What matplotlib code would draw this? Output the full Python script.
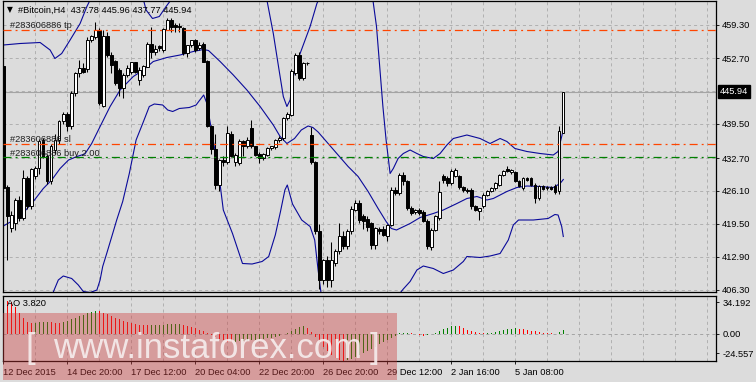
import matplotlib
matplotlib.use("Agg")
import matplotlib.pyplot as plt
import matplotlib.transforms as mtransforms
from matplotlib import font_manager
from matplotlib.patches import Rectangle
import numpy as np

plt.rcParams['font.family'] = ['Liberation Sans', 'DejaVu Sans']
plt.rcParams['lines.scale_dashes'] = False

# Bitcoin H4 свечи (O, H, L, C)
opens = [451.1, 426.8, 418.6, 419.6, 424.4, 420.6, 428.6, 423.0, 429.0, 430.6,
         436.3, 433.0, 428.0, 434.3, 436.3, 440.0, 441.4, 439.0, 445.6, 449.6,
         450.8, 450.5, 456.3, 457.0, 458.4, 443.1, 457.0, 453.3, 452.0, 450.3,
         446.6, 449.3, 449.8, 451.8, 448.3, 449.3, 451.0, 455.6, 454.0, 455.0,
         454.3, 458.4, 460.4, 459.3, 459.2, 458.6, 453.6, 455.3, 456.2, 454.6,
         455.6, 452.0, 439.0, 434.5, 427.3, 432.3, 431.8, 437.6, 431.8, 431.6,
         436.0, 435.0, 438.6, 435.0, 433.5, 432.6, 433.3, 434.6, 434.8, 436.3,
         436.6, 440.6, 441.3, 449.6, 453.3, 448.6, 451.6, 437.3, 431.8, 418.0,
         408.3, 412.3, 408.3, 411.6, 414.0, 417.0, 415.0, 418.0, 422.4, 423.7,
         421.0, 420.5, 419.6, 415.3, 418.5, 418.5, 417.0, 419.3, 426.3, 425.6,
         429.3, 428.0, 422.6, 421.8, 422.3, 421.8, 420.0, 414.8, 418.3, 420.6,
         429.1, 428.6, 427.6, 429.0, 429.0, 426.8, 426.3, 426.3, 423.0, 422.0,
         423.0, 425.3, 426.0, 426.6, 427.3, 429.3, 430.4, 429.8, 429.8, 428.0,
         426.6, 428.6, 428.6, 427.3, 424.6, 427.0, 426.6, 426.8, 427.0, 426.0,
         437.78]
highs = [451.5, 427.2, 422.0, 424.6, 425.0, 430.4, 429.0, 430.6, 431.0, 436.5,
         436.6, 433.5, 435.5, 437.5, 440.3, 441.8, 441.8, 446.0, 449.8, 452.3,
         451.6, 457.0, 457.3, 460.0, 458.7, 458.3, 458.0, 454.0, 452.3, 450.6,
         449.6, 451.3, 451.8, 452.0, 451.0, 451.3, 455.8, 459.0, 455.3, 455.3,
         458.6, 460.6, 460.6, 459.6, 459.6, 459.0, 455.3, 456.3, 456.5, 455.8,
         455.8, 452.3, 439.3, 437.5, 432.5, 433.0, 439.0, 438.0, 433.6, 436.5,
         436.3, 436.8, 440.4, 435.2, 433.8, 433.7, 434.8, 435.0, 436.5, 437.0,
         440.8, 441.8, 450.5, 453.6, 454.0, 452.0, 451.8, 438.9, 432.0, 419.5,
         412.5, 413.0, 415.9, 414.5, 419.6, 418.0, 418.5, 423.0, 424.4, 424.4,
         421.5, 421.0, 419.8, 418.9, 418.8, 419.0, 419.5, 426.8, 426.8, 429.6,
         429.8, 428.3, 423.0, 422.5, 422.6, 422.3, 420.5, 418.6, 421.3, 428.0,
         429.5, 429.0, 430.5, 430.6, 429.3, 427.0, 426.6, 426.6, 423.2, 422.6,
         425.6, 426.3, 426.8, 427.8, 429.5, 430.4, 431.0, 430.5, 430.1, 428.3,
         428.8, 428.8, 428.8, 427.6, 427.3, 427.2, 427.0, 427.0, 427.5, 439.0,
         445.96]
lows = [426.4, 412.3, 417.8, 418.3, 420.0, 420.2, 422.5, 422.5, 428.5, 429.5,
        432.6, 427.5, 427.5, 433.5, 435.5, 439.5, 438.0, 438.5, 445.0, 449.0,
        449.6, 450.0, 456.0, 456.5, 443.3, 442.8, 453.0, 449.6, 447.3, 445.0,
        444.6, 449.0, 449.5, 449.6, 447.3, 448.8, 450.8, 452.6, 453.3, 454.2,
        454.0, 458.3, 458.0, 458.0, 458.0, 453.3, 452.8, 455.0, 454.0, 454.3,
        451.8, 438.8, 433.5, 426.5, 426.0, 431.0, 431.5, 432.8, 431.0, 431.3,
        433.0, 434.6, 434.6, 433.0, 431.6, 432.3, 433.0, 434.3, 434.5, 435.8,
        436.4, 440.3, 441.0, 449.3, 448.3, 448.3, 451.4, 431.5, 417.5, 406.5,
        407.5, 406.8, 406.9, 411.0, 413.5, 414.5, 414.5, 417.5, 422.0, 419.7,
        418.5, 418.0, 414.5, 414.5, 417.5, 417.0, 416.0, 419.0, 425.3, 425.3,
        427.3, 422.3, 421.3, 421.5, 421.3, 419.8, 414.4, 414.3, 418.0, 420.3,
        427.6, 427.0, 427.3, 428.8, 426.5, 425.8, 425.6, 422.5, 422.0, 420.4,
        422.6, 425.0, 425.8, 426.3, 427.0, 429.0, 429.8, 429.5, 427.8, 426.8,
        426.3, 428.1, 427.0, 423.6, 424.3, 426.3, 426.2, 426.3, 425.5, 425.5,
        437.77]
closes = [426.6, 421.0, 421.3, 424.3, 420.6, 428.6, 423.0, 430.4, 430.6, 436.0,
          432.8, 428.0, 435.0, 436.3, 440.0, 441.4, 439.0, 445.6, 449.6, 450.6,
          450.0, 456.3, 457.0, 458.4, 443.6, 457.0, 453.3, 451.3, 447.6, 446.6,
          449.3, 450.6, 451.8, 449.8, 450.3, 451.0, 455.6, 454.0, 454.6, 454.6,
          458.4, 460.4, 459.0, 459.0, 458.9, 453.6, 455.3, 456.3, 454.3, 455.3,
          452.0, 439.0, 434.5, 427.3, 432.3, 431.8, 437.6, 433.2, 433.3, 436.0,
          435.0, 436.3, 435.0, 433.3, 432.6, 433.5, 434.6, 435.0, 436.3, 436.6,
          440.6, 441.5, 450.0, 453.3, 448.6, 451.6, 451.6, 431.8, 418.0, 408.3,
          412.3, 408.3, 412.3, 414.0, 417.0, 415.0, 418.0, 422.4, 423.7, 420.3,
          420.0, 418.8, 415.3, 418.6, 418.0, 417.3, 419.3, 426.3, 425.6, 429.3,
          428.0, 422.6, 421.6, 422.3, 421.6, 420.0, 415.0, 418.3, 421.0, 425.8,
          428.2, 427.6, 430.0, 430.2, 426.8, 426.3, 426.0, 423.0, 422.3, 422.6,
          425.3, 426.0, 426.6, 427.6, 429.3, 430.0, 430.0, 430.2, 428.0, 427.0,
          428.6, 428.3, 427.3, 424.6, 427.0, 426.5, 426.8, 426.5, 425.8, 438.0,
          445.94]

# Bollinger Bands (позиция в барах, цена)
mid_x = [0, 4.2, 7.5, 10, 12.1, 14.2, 16.3, 18.4, 20.4, 22.1, 24.2, 26.7, 29.2, 32.5,
         35, 37.5, 40.9, 44.2, 47.5, 50, 51.3, 54.2, 57.5, 60.9, 64.2, 67.5, 69.2,
         70.9, 72.8, 74.5, 76.2, 77.4, 78.7, 81.2, 83.7, 86.2, 88.7, 91.2, 93.7, 95.7,
         97, 98.3, 101.7, 104.2, 107.5, 110, 113.4, 115.9, 118.4, 120.9, 122.5, 125.9,
         128.4, 130.9, 134.2, 137.5, 139.2, 140]
mid_y = [419.1, 421.0, 424.0, 426.6, 428.3, 430.6, 432.3, 433.0, 433.5, 435.6, 439.0,
         443.0, 446.3, 449.0, 450.3, 452.0, 452.8, 453.3, 454.0, 454.4, 454.2, 452.0,
         449.3, 446.3, 443.0, 439.3, 437.0, 435.6, 436.6, 438.3, 439.1, 438.8, 437.9,
         435.6, 433.3, 431.0, 429.0, 426.0, 422.6, 420.0, 418.6, 418.3, 419.6, 420.8,
         421.6, 422.3, 423.6, 424.6, 425.0, 424.3, 424.6, 426.0, 426.8, 427.1, 427.0,
         426.8, 427.6, 428.4]
up_x = [0, 4.2, 9.2, 11.7, 12.9, 14.6, 16.7, 19.2, 20.9, 21.7, 24, 28, 32, 34.5, 35.7,
        37.3, 39, 40.7, 41.9, 45, 50, 55, 60, 63, 65.9, 67.5, 68.8, 70, 70.9, 71.7,
        72.5, 74.2, 76.7, 78.4, 81, 85, 89, 92.4, 93.3, 94.1, 94.9, 95.7, 96.0, 96.7,
        97.5, 98.7, 100, 101.7, 103.4, 105, 107.5, 109.2, 110.9, 112.5, 115.9, 119.2,
        121.7, 124.2, 125.9, 127.9, 130.9, 134.2, 137.5, 138.7, 139.6, 140]
up_y = [455.3, 455.6, 455.8, 454.3, 452.6, 453.6, 456.3, 459.6, 463.0, 464.3, 468, 471,
        470, 466, 462.3, 460.6, 461.0, 463.0, 464.3, 468, 472, 476, 476, 471, 464.3,
        457.6, 451.0, 445.0, 443.0, 444.3, 449.0, 453.6, 459.0, 463.6, 468, 472, 470,
        464.3, 459.0, 451.0, 443.0, 436.3, 434.3, 429.6, 430.6, 432.6, 433.6, 434.3,
        433.6, 433.0, 432.6, 433.6, 435.3, 436.6, 437.3, 436.6, 435.6, 436.6, 436.0,
        434.6, 434.0, 433.6, 433.3, 434.0, 437.0, 438.3]
lo_x = [0, 5, 10, 12.5, 13.75, 15, 17.1, 18.75, 20, 21.7, 23.4, 24.2, 24.85, 25.85,
        27.35, 28.35, 29.85, 31.5, 33.2, 34.85, 36.5, 37.75, 39.85, 41.1, 42.35, 44,
        46.5, 48.2, 48.85, 50.1, 50.9, 52.2, 53.8, 55, 57.3, 59.8, 62.2, 64.7, 66.35,
        68, 69.3, 70.4, 71, 72.3, 74.6, 76.7, 77.85, 78.7, 79.4, 82, 86, 90, 94, 97,
        98.5, 100, 101.7, 103.4, 105, 107.5, 110, 112.5, 115, 115.9, 119.2, 121.7,
        124.2, 126.25, 127.5, 128.8, 132.5, 136.2, 137.9, 138.7, 139.6, 140]
lo_y = [396, 398, 402, 405.9, 408.3, 409.1, 408.6, 407.3, 406.0, 405.8, 406.3, 408.3,
        411.0, 413.6, 417.6, 420.3, 424.0, 429.6, 436.3, 439.6, 443.0, 443.5, 443.3,
        442.3, 442.0, 442.6, 442.8, 443.3, 444.0, 445.3, 443.6, 437.6, 430.0, 422.3,
        417.6, 411.6, 411.5, 412.0, 413.0, 417.3, 422.0, 426.3, 427.3, 423.5, 420.3,
        419.0, 416.3, 410.3, 405.9, 398, 392, 390, 393, 400, 405.0, 406.5, 408.0,
        410.3, 411.1, 410.6, 409.6, 410.3, 412.0, 413.0, 412.8, 413.1, 413.6, 416.3,
        419.3, 420.3, 420.3, 420.6, 421.4, 421.3, 419.0, 417.0]

# Awesome Oscillator
ao_values = [34.19, 30.0, 28.5, 24.5, 19.0, 14.5, 11.0, 9.8, 10.0, 10.3,
             10.5, 10.6, 10.4, 10.2, 10.0, 10.5, 11.8, 13.2, 14.6, 16.0,
             17.4, 18.6, 19.8, 20.8, 20.2, 19.0, 17.5, 16.0, 14.6, 13.0,
             11.5, 10.6, 9.8, 9.0, 8.4, 8.0, 7.7, 7.9, 8.1, 8.3,
             8.4, 8.5, 8.6, 8.7, 8.8, 8.4, 7.4, 6.2, 5.0, 3.8,
             2.5, 1.0, -0.8, -2.8, -4.6, -6.0, -7.0, -7.5, -7.2, -6.9,
             -6.6, -6.3, -6.0, -5.6, -5.2, -4.7, -4.2, -3.5, -2.6, -1.6,
             -0.3, 1.2, 3.0, 4.8, 6.3, 7.5, 5.0, 2.0, -2.5, -7.0,
             -11.5, -15.5, -18.8, -21.5, -23.5, -24.557, -23.8, -22.5, -21.0, -19.2,
             -17.5, -15.6, -13.6, -11.5, -9.5, -7.4, -5.5, -3.6, -1.8, 0.3,
             1.0, 1.2, 0.8, -0.5, -1.2, -1.6, -1.0, -0.3, 1.0, 2.5,
             4.2, 5.6, 6.8, 7.4, 6.8, 5.3, 3.8, 2.5, 1.4, 0.6,
             0.3, 0.5, 1.0, 1.7, 2.5, 3.4, 4.2, 4.8, 5.2, 4.7,
             4.0, 3.4, 2.8, 2.2, 1.6, 1.0, 0.6, 0.3, 0.1, 1.6,
             3.82]

# уровни ордера
tp_price = 458.3
sl_price = 435.5
buy_price = 432.84
bid_price = 445.94

price_ticks = [459.30, 452.70, 439.50, 432.70, 426.10, 419.50, 412.90, 406.30]
grid_prices = [459.30, 452.70, 446.10, 439.50, 432.70, 426.10, 419.50, 412.90, 406.30]
ao_tick_pos = [28.75, 0.0, -17.4]
ao_tick_labels = ['34.192', '0.00', '-24.557']
time_ticks = [0, 16, 32, 48, 64, 80, 96, 112, 128]
time_labels = ['12 Dec 2015', '14 Dec 20:00', '17 Dec 12:00', '20 Dec 04:00',
               '22 Dec 20:00', '26 Dec 20:00', '29 Dec 12:00', '2 Jan 16:00',
               '5 Jan 08:00']

BG = '#dcdcdc'
GRID = '#b0b0b0'
FS = 6.7
W, H = 756, 382
fig = plt.figure(figsize=(W / 100, H / 100), dpi=100, facecolor=BG)


def px_box(left, top, right, bottom):
    return [left / W, 1 - bottom / H, (right - left) / W, (bottom - top) / H]


ax = fig.add_axes(px_box(3, 1, 716, 292), facecolor=BG)
ao_ax = fig.add_axes(px_box(3, 296, 716, 361), facecolor=BG)

xlim = (-0.075, 178.175)
x = np.arange(len(closes))
o = np.array(opens)
c = np.array(closes)

# сетка
for gx in range(0, 178, 8):
    for a in (ax, ao_ax):
        a.axvline(gx, color=GRID, lw=0.7, dashes=(2.2, 2.2), zorder=0)
for gp in grid_prices:
    ax.axhline(gp, color=GRID, lw=0.7, dashes=(2.2, 2.2), zorder=0)
ax.axhline(bid_price, color='#a4a4a4', lw=0.8, zorder=1)

# полосы Боллинджера
for bx, by in ((mid_x, mid_y), (up_x, up_y), (lo_x, lo_y)):
    ax.plot(bx, by, color='#0a0a9a', lw=0.8, zorder=2)

# свечи
ax.vlines(x, lows, highs, color='black', lw=0.75, zorder=3)
body_h = np.maximum(np.abs(c - o), 0.08)
ax.bar(x, body_h, bottom=np.minimum(o, c), width=0.6,
       color=np.where(c >= o, 'white', 'black'), edgecolor='black',
       linewidth=0.7, zorder=4)

# линии ордера
ax.axhline(tp_price, color='#ff4500', lw=0.9, dashes=(5.8, 2.9, 1.4, 2.9), zorder=5)
ax.axhline(sl_price, color='#ff4500', lw=0.9, dashes=(5.8, 2.9, 1.4, 2.9), zorder=5)
ax.axhline(buy_price, color='#008000', lw=0.9, dashes=(5.8, 2.9, 1.4, 2.9), zorder=5)

lbl_tr = mtransforms.blended_transform_factory(ax.transAxes, ax.transData)
ax.text(0.0098, 458.6, '#283606886 tp', transform=lbl_tr, fontsize=FS,
        color='#202020', va='baseline', zorder=6)
ax.text(0.0098, 435.9, '#283606886 sl', transform=lbl_tr, fontsize=FS,
        color='#202020', va='baseline', zorder=6)
ax.text(0.0098, 433.2, '#283606886 buy 2.00', transform=lbl_tr, fontsize=FS,
        color='#202020', va='baseline', zorder=6)

ax.set_xlim(*xlim)
ax.set_ylim(405.9, 464.1)
ax.yaxis.tick_right()
ax.set_yticks(price_ticks)
ax.set_yticklabels(['%.2f' % p for p in price_ticks])
ax.tick_params(axis='y', length=2.5, width=0.6, pad=2, labelsize=FS, colors='black')
ax.tick_params(axis='x', bottom=False, labelbottom=False)

# метка текущей цены
box_tr = mtransforms.offset_copy(lbl_tr, fig=fig, x=2.6, y=0, units='points')
ax.text(1.0, bid_price, '%.2f' % bid_price, transform=box_tr, fontsize=FS,
        color='white', ha='left', va='center', clip_on=False,
        bbox=dict(boxstyle='square,pad=0.2', fc='black', ec='black'))

# AO
ao = np.array(ao_values)
ao_colors = ['#008000'] + ['#008000' if ao[i] >= ao[i - 1] else '#ff0000'
                           for i in range(1, len(ao))]
ao_ax.bar(x, ao, width=0.4, color=ao_colors, linewidth=0, zorder=2)
ao_ax.axhline(0, color='#a4a4a4', lw=0.7, dashes=(2.2, 2.2), zorder=1)
ao_ax.set_xlim(*xlim)
ao_ax.set_ylim(-24.557, 34.192)
ao_ax.yaxis.tick_right()
ao_ax.set_yticks(ao_tick_pos)
ao_ax.set_yticklabels(ao_tick_labels)
ao_ax.tick_params(axis='y', length=2.5, width=0.6, pad=2, labelsize=FS)
ao_ax.set_xticks(time_ticks)
ao_ax.set_xticklabels(time_labels, ha='left')
ao_ax.tick_params(axis='x', length=2.5, width=0.6, pad=2.5, labelsize=FS)
ao_ax.text(0.0056, 0.89, 'AO 3.820', transform=ao_ax.transAxes, fontsize=FS,
           va='center')

for a in (ax, ao_ax):
    for s in a.spines.values():
        s.set_color('black')
        s.set_linewidth(0.9)

# заголовок
fig.text(7 / W, 1 - 10 / H, '\u25bc', fontsize=5.5, family=['DejaVu Sans'], va='center')
fig.text(18 / W, 1 - 10 / H, '#Bitcoin,H4  437.78 445.96 437.77 445.94',
         fontsize=FS, va='center')

# водяной знак
names = {f.name for f in font_manager.fontManager.ttflist}
if 'Liberation Sans Narrow' in names:
    wm_font, wm_size = 'Liberation Sans Narrow', 30
else:
    wm_font, wm_size = 'Liberation Sans', 25
fig.add_artist(Rectangle((3 / W, 1 - 380 / H), 394 / W, 67 / H,
                         transform=fig.transFigure, facecolor='#cd3c3c',
                         alpha=0.4, edgecolor='none', zorder=10))
for tx, tt in ((25, '['), (53, 'www.instaforex.com'), (370, ']')):
    fig.text(tx / W, 1 - 358 / H, tt, fontsize=wm_size, family=wm_font,
             color='#f6eeee', alpha=0.9, va='baseline', ha='left', zorder=11)

fig.savefig('out.png', dpi=100, facecolor=BG)
